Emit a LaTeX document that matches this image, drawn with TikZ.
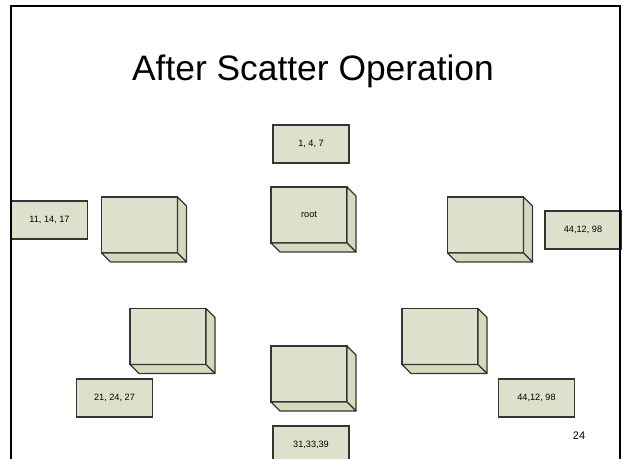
\documentclass[tikz,border=0pt]{standalone}
\usepackage{fontspec}
\setmainfont{Liberation Sans}
\definecolor{boxfill}{HTML}{DDE0CA}
\definecolor{sidefill}{HTML}{D6D9C0}
\definecolor{edgec}{HTML}{353535}
\tikzset{
  slide/.style={x=1bp, y=-1bp},
  front/.style={draw=edgec, line width=1.1bp, fill=boxfill, outer sep=0pt,
    inner sep=0pt, minimum width=76bp, minimum height=56bp,
    font=\fontsize{9.2}{11}\selectfont},
  tag/.style={draw=edgec, line width=1.1bp, fill=boxfill, outer sep=0pt,
    inner sep=0pt, minimum width=76bp, minimum height=38bp,
    font=\fontsize{9.2}{11}\selectfont},
  sideface/.style={draw=edgec, line width=1.1bp, fill=sidefill, line join=round},
  frameline/.style={draw=black, line width=2.6bp},
}
% right and bottom faces of a box drawn behind-right of its front face
\newcommand\boxsides[1]{%
  \path[sideface] (#1.north east) -- ([shift={(9,9)}]#1.north east)
    -- ([shift={(9,9)}]#1.south east) -- (#1.south east) -- cycle;
  \path[sideface] (#1.south west) -- (#1.south east)
    -- ([shift={(9,9)}]#1.south east) -- ([shift={(9,9)}]#1.south west) -- cycle;
}
\begin{document}
\begin{tikzpicture}[slide]
\clip (0,0) rectangle (624,459);
\fill[white] (0,0) rectangle (624,459);

% title
\node[font=\fontsize{35.5}{40}\selectfont, anchor=base] (title) at (313,81) {After Scatter Operation};

% processes
\node[front] (root) at (309,215) {root};
\node[front] (pl)   at (139.5,225) {};
\node[front] (pr)   at (485.5,225) {};
\node[front] (pbl)  at (168,336.5) {};
\node[front] (pb)   at (309,374) {};
\node[front] (pbr)  at (440,336.5) {};
\foreach \n in {root,pl,pr,pbl,pb,pbr} {\boxsides{\n}}

% data chunks
\node[tag] (droot) at (311,144) {1, 4, 7};
\node[tag] (dl)    at (49.5,220) {11, 14, 17};
\node[tag] (dr)    at (583,230) {44,12, 98};
\node[tag] (dbl)   at (114.5,398) {21, 24, 27};
\node[tag] (db)    at (311,445) {31,33,39};
\node[tag] (dbr)   at (536.5,398) {44,12, 98};

% page number
\node[font=\fontsize{11}{13}\selectfont] (pg) at (579,436) {24};

% slide frame
\coordinate (fbl) at (11,470);
\coordinate (ftl) at (11,6);
\coordinate (ftr) at (620,6);
\coordinate (fbr) at (620,470);
\draw[frameline] (fbl) -- (ftl) -- (ftr) -- (fbr);
\end{tikzpicture}
\end{document}
